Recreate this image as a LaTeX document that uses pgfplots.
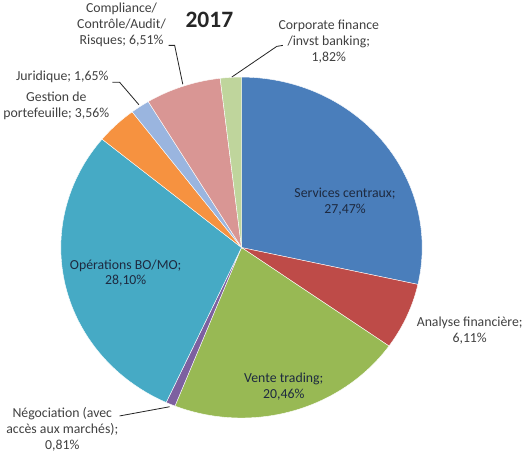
\documentclass[border=0pt]{standalone}
\usepackage{pgfplots}
\pgfplotsset{compat=1.18}
\usepackage{fontspec}
\setmainfont{Carlito}
\definecolor{cServ}{HTML}{4A7EBB}
\definecolor{cAna}{HTML}{BE4B48}
\definecolor{cVente}{HTML}{98B954}
\definecolor{cNego}{HTML}{7D60A0}
\definecolor{cOper}{HTML}{46AAC5}
\definecolor{cGest}{HTML}{F69240}
\definecolor{cJuri}{HTML}{9AB5DF}
\definecolor{cComp}{HTML}{D99694}
\definecolor{cCorp}{HTML}{BFD59C}
\definecolor{labout}{HTML}{404040}
\definecolor{labin}{HTML}{1E2A40}
% Shares (%): Services centraux 27.47, Analyse financiere 6.11, Vente trading 20.46,
% Negociation 0.81, Operations BO/MO 28.10, Gestion de portefeuille 3.56,
% Juridique 1.65, Compliance 6.51, Corporate finance 1.82 (total 96.49)
% Slice boundaries in degrees (clockwise from 90, proportional to share/total).
\begin{document}
\begin{tikzpicture}
\begin{axis}[
  width=526pt, height=450pt, scale only axis,
  hide axis, clip=false,
  xmin=-1.3983, xmax=1.5734, ymin=-1.1976, ymax=1.4970,
  every axis plot/.append style={draw=white, line width=0.4pt, samples=80, data cs=polar},
]
\addplot[fill=cServ,  domain=-12.49:90]      {1} -- (axis cs:0,0) -- cycle;
\addplot[fill=cAna,   domain=-35.28:-12.49]  {1} -- (axis cs:0,0) -- cycle;
\addplot[fill=cVente, domain=-111.62:-35.28] {1} -- (axis cs:0,0) -- cycle;
\addplot[fill=cNego,  domain=-114.64:-111.62]{1} -- (axis cs:0,0) -- cycle;
\addplot[fill=cOper,  domain=-219.48:-114.64]{1} -- (axis cs:0,0) -- cycle;
\addplot[fill=cGest,  domain=-232.76:-219.48]{1} -- (axis cs:0,0) -- cycle;
\addplot[fill=cJuri,  domain=-238.92:-232.76]{1} -- (axis cs:0,0) -- cycle;
\addplot[fill=cComp,  domain=-263.21:-238.92]{1} -- (axis cs:0,0) -- cycle;
\addplot[fill=cCorp,  domain=-270:-263.21]   {1} -- (axis cs:0,0) -- cycle;

% title
\node[font=\fontsize{23}{25}\selectfont\bfseries, text=black!85] at (axis cs:-0.178,1.335) {2017};

% inside labels
\node[align=center, font=\fontsize{13.5}{15.5}\selectfont, text=labin] at (axis cs:0.573,0.269) {Services centraux;\\27,47\%};
\node[align=center, font=\fontsize{13.5}{15.5}\selectfont, text=labin] at (axis cs:-0.641,-0.150) {Opérations BO/MO;\\28,10\%};
\node[align=center, font=\fontsize{13.5}{15.5}\selectfont, text=labin] at (axis cs:0.234,-0.814) {Vente trading;\\20,46\%};

% outside labels
\node[align=center, font=\fontsize{13.5}{15.5}\selectfont, text=labout] at (axis cs:1.263,-0.485) {Analyse financière;\\6,11\%};
\node[align=center, font=\fontsize{13.5}{15.5}\selectfont, text=labout] at (axis cs:-0.992,-1.066) {Négociation (avec\\accès aux marchés);\\0,81\%};
\node[align=center, font=\fontsize{13.5}{15.5}\selectfont, text=labout] at (axis cs:-1.025,0.832) {Gestion de\\portefeuille; 3,56\%};
\node[align=center, font=\fontsize{13.5}{15.5}\selectfont, text=labout] at (axis cs:-0.992,1.0) {Juridique; 1,65\%};
\node[align=center, font=\fontsize{13.5}{15.5}\selectfont, text=labout] at (axis cs:-0.664,1.305) {Compliance/\\Contrôle/Audit/\\Risques; 6,51\%};
\node[align=center, font=\fontsize{13.5}{15.5}\selectfont, text=labout] at (axis cs:0.483,1.210) {Corporate finance\\/invst banking;\\1,82\%};

% leader lines
\draw[black!85, line width=0.8pt] (axis cs:-0.715,0.970) -- (axis cs:-0.675,0.970) -- (axis cs:-0.568,0.838);
\draw[black!85, line width=0.8pt] (axis cs:-0.404,1.186) -- (axis cs:-0.370,1.186) -- (axis cs:-0.325,0.958);
\draw[black!85, line width=0.8pt] (axis cs:0.229,1.186) -- (axis cs:0.195,1.180) -- (axis cs:-0.054,1.000);
\draw[black!85, line width=0.8pt] (axis cs:-0.675,-0.988) -- (axis cs:-0.398,-0.934);
\end{axis}
\end{tikzpicture}
\end{document}
